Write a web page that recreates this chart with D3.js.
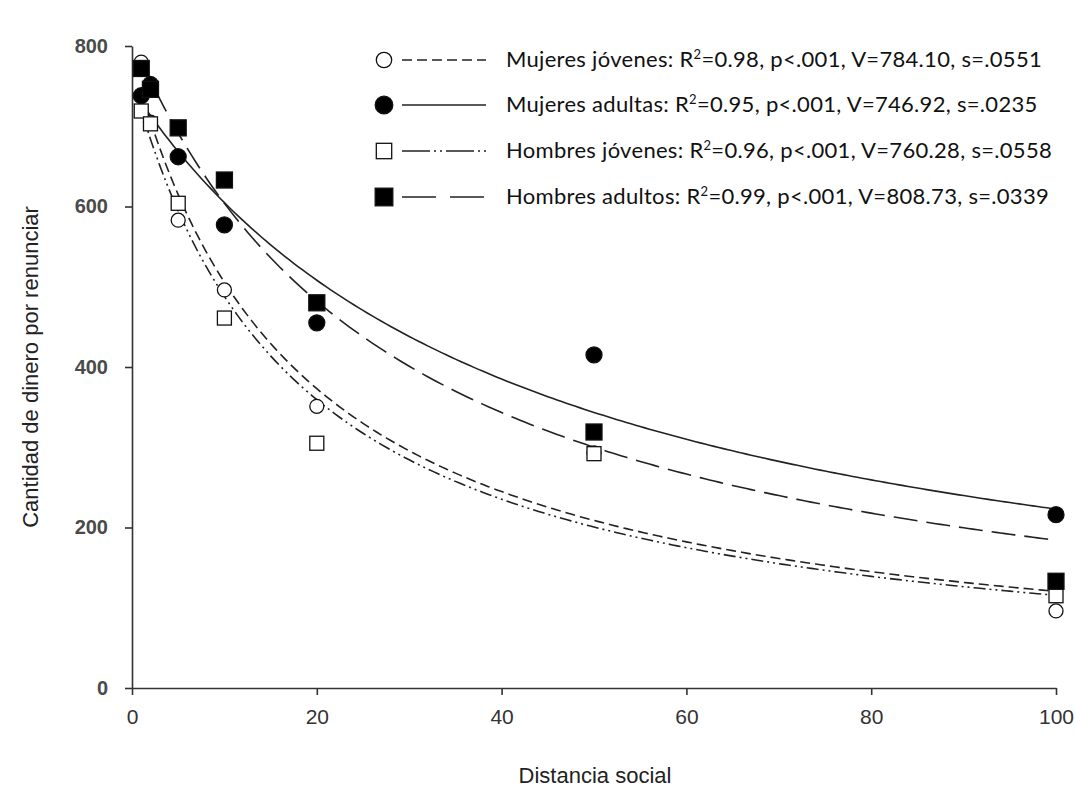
<!DOCTYPE html>
<html>
<head>
<meta charset="utf-8">
<script src="https://cdn.jsdelivr.net/npm/d3@7"></script>
<style>
  body { margin: 0; background: #fff; }
  #graf { width: 1076px; height: 791px; }
  .axis path, .axis line { stroke: #333; stroke-width: 1.6; }
  .axis text { font-family: "Liberation Sans", Arial, sans-serif; font-size: 20px; font-weight: bold; fill: #4a4a4a; }
  .axis.x text { font-weight: normal; font-size: 21px; fill: #333; }
  .titulo { font-family: "Liberation Sans", Arial, sans-serif; font-size: 22px; fill: #222; }
  .leyenda text { font-family: Lato, "Open Sans", sans-serif; font-size: 22px; letter-spacing: 0.3px; fill: #111; }
</style>
</head>
<body>
<div id="graf"></div>
<script>
// Datos: distancia social y cantidad de dinero por renunciar
const distancias = [1, 2, 5, 10, 20, 50, 100]
const mujeresJovenes = [780, 705, 583, 496, 351, 293, 96]
const mujeresAdultas = [738, 752, 662, 577, 455, 415, 216]
const hombresJovenes = [719, 703, 604, 461, 305, 292, 115]
const hombresAdultos = [772, 746, 698, 633, 480, 319, 133]

// parametros del ajuste hiperbolico V / (1 + s*x)
const grupos = ["Mujeres jóvenes", "Mujeres adultas", "Hombres jóvenes", "Hombres adultos"]
const r2 = ["0.98", "0.95", "0.96", "0.99"]
const valorV = [784.10, 746.92, 760.28, 808.73]
const valorS = [0.0551, 0.0235, 0.0558, 0.0339]

const xTicks = [0, 20, 40, 60, 80, 100]
const yTicks = [0, 200, 400, 600, 800]

const draw = () => {
  const graf = d3.select("#graf")
  const anchoTotal = 1076
  const altoTotal = 791
  const margins = { top: 46, right: 20, bottom: 103, left: 132 }
  const ancho = 1056 - margins.left
  const alto = altoTotal - margins.top - margins.bottom

  const x = d3.scaleLinear().domain([0, 100]).range([0, ancho])
  const y = d3.scaleLinear().domain([0, 800]).range([alto, 0])

  const svg = graf.append("svg").attr("width", anchoTotal).attr("height", altoTotal)
  const chart = svg.append("g").attr("transform", `translate(${margins.left}, ${margins.top})`)

  // Ejes
  const xAxis = d3.axisBottom(x).tickValues(xTicks).tickSize(7).tickSizeOuter(0).tickPadding(10)
  const yAxis = d3.axisLeft(y).tickValues(yTicks).tickSize(7).tickSizeOuter(0).tickPadding(17)

  chart.append("g").attr("transform", `translate(0, ${alto})`).attr("class", "axis x").call(xAxis)
    .selectAll("text").attr("dy", "0.9em")
  chart.append("g").attr("class", "axis y").call(yAxis)

  svg.append("text").classed("titulo", true)
    .attr("x", 595).attr("y", 783).attr("text-anchor", "middle").text("Distancia social")
  svg.append("text").classed("titulo", true)
    .attr("transform", "translate(38, 367) rotate(-90)")
    .attr("text-anchor", "middle").text("Cantidad de dinero por renunciar")

  // Curvas
  const estilos = ["10,5", null, "12,4,2,4,2,4", "24,9"]
  const dominio = d3.range(1, 100.01, 0.5)
  const linea = d3.line().x((d) => x(d[0])).y((d) => y(d[1]))
  grupos.forEach((g, i) => {
    const pts = dominio.map((d) => [d, valorV[i] / (1 + valorS[i] * d)])
    chart.append("path")
      .attr("d", linea(pts))
      .attr("fill", "none")
      .attr("stroke", "#222")
      .attr("stroke-width", 1.6)
      .attr("stroke-dasharray", estilos[i])
  })

  // Puntos
  const series = [mujeresJovenes, mujeresAdultas, hombresJovenes, hombresAdultos]
  const dibujarMarca = (sel, i, cx, cy, escala) => {
    if (i < 2) {
      sel.append("circle")
        .attr("cx", cx).attr("cy", cy)
        .attr("r", (i === 0 ? 7 : 8) * escala)
        .attr("fill", i === 0 ? "#fff" : "#000")
        .attr("stroke", "#111")
        .attr("stroke-width", 1.3)
    } else {
      const lado = (i === 2 ? 14 : 16) * escala
      sel.append("rect")
        .attr("x", cx - lado / 2).attr("y", cy - lado / 2)
        .attr("width", lado).attr("height", lado)
        .attr("fill", i === 2 ? "#fff" : "#000")
        .attr("stroke", "#111")
        .attr("stroke-width", 1.3)
    }
  }
  series.forEach((serie, i) => {
    const grupo = chart.append("g")
    serie.forEach((v, j) => dibujarMarca(grupo, i, x(distancias[j]), y(v), 1))
  })

  // Leyenda
  const leyenda = svg.append("g").classed("leyenda", true)
  const filasY = [60, 105, 151, 197]
  grupos.forEach((g, i) => {
    const fy = filasY[i]
    dibujarMarca(leyenda, i, 384, fy, 1.1)
    leyenda.append("line")
      .attr("x1", 402).attr("x2", 486).attr("y1", fy).attr("y2", fy)
      .attr("stroke", "#222").attr("stroke-width", 1.6)
      .attr("stroke-dasharray", i === 3 ? "34,14" : i === 2 ? "28,4,2,4,2,4" : estilos[i])
    const t = leyenda.append("text").attr("x", 506).attr("y", fy + 7)
    t.append("tspan").text(`${g}: R`)
    t.append("tspan").attr("baseline-shift", "super").attr("font-size", "13px").text("2")
    t.append("tspan").text(`=${r2[i]}, p<.001, V=${valorV[i].toFixed(2)}, s=${valorS[i].toFixed(4).slice(1)}`)
  })
}

draw()
</script>
</body>
</html>
